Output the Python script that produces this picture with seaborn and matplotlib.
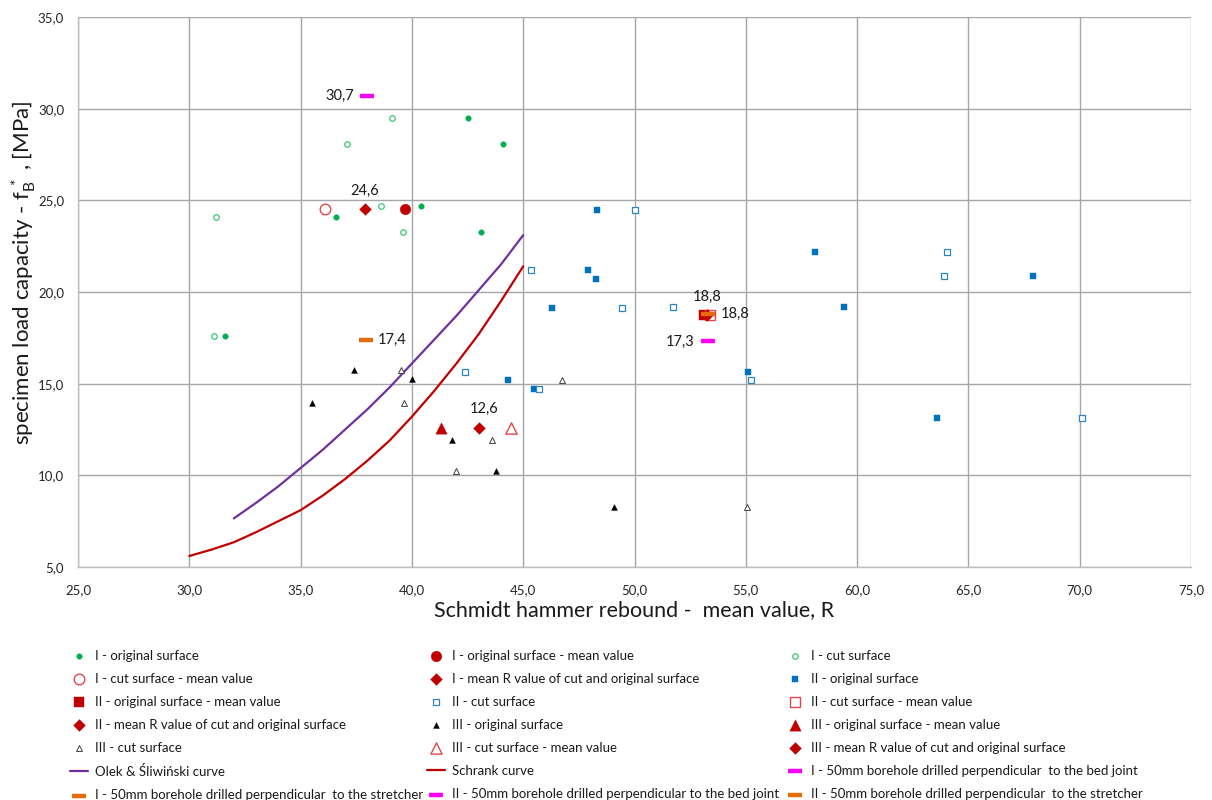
import matplotlib
matplotlib.use("Agg")
import matplotlib.pyplot as plt
import seaborn as sns
from matplotlib.ticker import FuncFormatter

# ---------------- data ----------------
# Group I
I_orig_R = [42.5, 44.1, 36.6, 40.4, 43.1, 31.6]
I_orig_f = [29.5, 28.1, 24.1, 24.7, 23.3, 17.6]
I_cut_R = [39.1, 37.1, 31.2, 38.6, 39.6, 31.1]
I_cut_f = [29.5, 28.1, 24.1, 24.7, 23.3, 17.6]
I_orig_mean = (39.7, 24.55)
I_cut_mean = (36.1, 24.55)
I_meanR = (37.9, 24.55)

# Group II
II_orig_R = [48.3, 58.1, 47.9, 48.25, 46.3, 44.3, 45.5, 55.1, 67.9, 59.4, 63.6]
II_orig_f = [24.45, 22.2, 21.2, 20.7, 19.1, 15.2, 14.7, 15.65, 20.9, 19.2, 13.15]
II_cut_R = [50.0, 64.05, 45.35, 63.9, 49.45, 51.75, 42.4, 55.25, 45.7, 70.1]
II_cut_f = [24.45, 22.2, 21.2, 20.9, 19.1, 19.2, 15.65, 15.2, 14.7, 13.15]
II_orig_mean = (53.1, 18.76)
II_cut_mean = (53.4, 18.76)
II_meanR = (53.25, 18.76)

# Group III
III_orig_R = [37.4, 40.0, 35.5, 41.8, 43.8, 49.1]
III_orig_f = [15.75, 15.25, 13.95, 11.95, 10.25, 8.3]
III_cut_R = [39.5, 39.65, 43.6, 42.0, 46.75, 55.05]
III_cut_f = [15.75, 13.95, 11.95, 10.25, 15.2, 8.3]
III_orig_mean = (41.3, 12.57)
III_cut_mean = (44.45, 12.57)
III_meanR = (43.0, 12.57)

# Curves
olek_R = [32, 33, 34, 35, 36, 37, 38, 39, 40, 41, 42, 43, 44, 45]
olek_f = [7.65, 8.5, 9.4, 10.4, 11.4, 12.5, 13.6, 14.8, 16.1, 17.4, 18.7, 20.1, 21.5, 23.1]
schrank_R = [30, 31, 32, 33, 34, 35, 36, 37, 38, 39, 40, 41, 42, 43, 44, 45]
schrank_f = [5.6, 5.95, 6.35, 6.9, 7.5, 8.1, 8.9, 9.8, 10.8, 11.9, 13.2, 14.6, 16.1, 17.7, 19.5, 21.4]

# Boreholes
I_bed = (38.0, 30.7)
I_str = (37.95, 17.4)
II_bed = (53.3, 17.3)
II_str = (53.3, 18.8)

x_ticks = [25, 30, 35, 40, 45, 50, 55, 60, 65, 70, 75]
y_ticks = [5, 10, 15, 20, 25, 30, 35]

legend_order = [
    "I - original surface", "I - original surface - mean value", "I - cut surface",
    "I - cut surface - mean value", "I - mean R value of cut and original surface", "II - original surface",
    "II - original surface - mean value", "II - cut surface", "II - cut surface - mean value",
    "II - mean R value of cut and original surface", "III - original surface", "III - original surface - mean value",
    "III - cut surface", "III - cut surface - mean value", "III - mean R value of cut and original surface",
    "Olek & Śliwiński curve", "Schrank curve", "I - 50mm borehole drilled perpendicular  to the bed joint",
    "I - 50mm borehole drilled perpendicular  to the stretcher", "II - 50mm borehole drilled perpendicular to the bed joint",
    "II - 50mm borehole drilled perpendicular  to the stretcher",
]

# ---------------- styling ----------------
sns.set_style("white")
FONT = ["Lato", "DejaVu Sans"]
plt.rcParams["font.family"] = FONT
plt.rcParams["mathtext.fontset"] = "custom"
plt.rcParams["mathtext.rm"] = "Lato"
plt.rcParams["mathtext.it"] = "Lato:italic"

GREEN = "#00B050"
GREEN_OPEN = "#3CC478"
BLUE = "#0070C0"
BLUE_OPEN = "#2F86C6"
RED = "#C00000"
RED_OPEN = "#E04848"
PURPLE = "#7030A0"
MAGENTA = "#FF00FF"
ORANGE = "#E46C0A"
GRID = "#A6A6A6"

W, H = 1212, 800
fig = plt.figure(figsize=(W / 100, H / 100), dpi=100)
L, R_, T, B = 78, 1191, 17, 567
ax = fig.add_axes([L / W, 1 - B / H, (R_ - L) / W, (B - T) / H])


def pts(xs, ys, label, marker, s, face, edge, lw=0.8):
    sns.scatterplot(x=list(xs), y=list(ys), ax=ax, label=label, legend=False,
                    marker=marker, s=s, color=edge, facecolor=face,
                    edgecolor=edge, linewidth=lw, zorder=3)


def one(p, label, marker, s, face, edge, lw=0.8):
    pts([p[0]], [p[1]], label, marker, s, face, edge, lw)


# plotting order follows the legend order (later series on top)
pts(I_orig_R, I_orig_f, legend_order[0], "o", 16, GREEN, GREEN, 0.3)
one(I_orig_mean, legend_order[1], "o", 58, RED, RED, 0.3)
pts(I_cut_R, I_cut_f, legend_order[2], "o", 16, "white", GREEN_OPEN, 0.9)
one(I_cut_mean, legend_order[3], "o", 58, "white", RED_OPEN, 1.0)
one(I_meanR, legend_order[4], "D", 36, RED, RED, 0.3)
pts(II_orig_R, II_orig_f, legend_order[5], "s", 20, BLUE, BLUE, 0.3)
one(II_orig_mean, legend_order[6], "s", 55, RED, RED, 0.3)
pts(II_cut_R, II_cut_f, legend_order[7], "s", 20, "white", BLUE_OPEN, 0.9)
one(II_cut_mean, legend_order[8], "s", 55, "white", RED_OPEN, 1.0)
one(II_meanR, legend_order[9], "D", 36, RED, RED, 0.3)
pts(III_orig_R, III_orig_f, legend_order[10], "^", 18, "black", "black", 0.3)
one(III_orig_mean, legend_order[11], "^", 66, RED, RED, 0.3)
pts(III_cut_R, III_cut_f, legend_order[12], "^", 18, "white", "#404040", 0.7)
one(III_cut_mean, legend_order[13], "^", 66, "white", RED_OPEN, 1.0)
one(III_meanR, legend_order[14], "D", 36, RED, RED, 0.3)

sns.lineplot(x=olek_R, y=olek_f, ax=ax, color=PURPLE, linewidth=1.6,
             label=legend_order[15], legend=False, sort=False, estimator=None, zorder=2)
sns.lineplot(x=schrank_R, y=schrank_f, ax=ax, color=RED, linewidth=1.6,
             label=legend_order[16], legend=False, sort=False, estimator=None, zorder=2)

one(I_bed, legend_order[17], "_", 100, MAGENTA, MAGENTA, 3.2)
one(I_str, legend_order[18], "_", 100, ORANGE, ORANGE, 3.2)
one(II_bed, legend_order[19], "_", 100, MAGENTA, MAGENTA, 3.2)
one(II_str, legend_order[20], "_", 100, ORANGE, ORANGE, 3.2)


def fmt(v):
    return f"{v:.1f}".replace(".", ",")


LBL = dict(fontsize=10.5, color="#1a1a1a", textcoords="offset points")
ax.annotate(fmt(I_bed[1]), I_bed, xytext=(-9.5, 0), ha="right", va="center", **LBL)
ax.annotate(fmt(I_meanR[1]), I_meanR, xytext=(0, 12.5), ha="center", va="center", **LBL)
ax.annotate(fmt(I_str[1]), I_str, xytext=(8.5, 0), ha="left", va="center", **LBL)
ax.annotate(fmt(III_meanR[1]), III_meanR, xytext=(4, 14), ha="center", va="center", **LBL)
ax.annotate(fmt(II_meanR[1]), II_meanR, xytext=(0, 13), ha="center", va="center", **LBL)
ax.annotate(fmt(II_str[1]), II_str, xytext=(9, 0), ha="left", va="center", **LBL)
ax.annotate(fmt(II_bed[1]), II_bed, xytext=(-10, 0), ha="right", va="center", **LBL)

# ---------------- axes ----------------
ax.set_xlim(x_ticks[0], x_ticks[-1])
ax.set_ylim(y_ticks[0], y_ticks[-1])
ax.set_xticks(x_ticks)
ax.set_yticks(y_ticks)
ax.xaxis.set_major_formatter(FuncFormatter(lambda v, p: fmt(v)))
ax.yaxis.set_major_formatter(FuncFormatter(lambda v, p: fmt(v)))
ax.grid(True, color=GRID, linewidth=1.0)
ax.set_axisbelow(True)
for side in ["top", "right"]:
    ax.spines[side].set_visible(False)
for side in ["left", "bottom"]:
    ax.spines[side].set_color("#BFBFBF")
    ax.spines[side].set_linewidth(1.0)
ax.tick_params(axis="both", direction="out", length=4, width=1, color="#BFBFBF",
               labelsize=9.5, labelcolor="#262626")
ax.tick_params(axis="x", pad=8)
ax.tick_params(axis="y", pad=6)

ax.set_xlabel("Schmidt hammer rebound -  mean value, R", fontsize=15.5, color="#1a1a1a")
ax.set_ylabel(r"specimen load capacity - f$\mathregular{_B^{\ *}}$ , [MPa]", fontsize=16, color="#1a1a1a")
ax.xaxis.set_label_coords(0.5, -0.061)
ax.yaxis.set_label_coords(-0.036, 0.535)

# ---------------- legend: three columns, row-major order ----------------
handles, labels = ax.get_legend_handles_labels()
hmap = dict(zip(labels, handles))
col_x = [70, 427, 786]
for k, x0 in enumerate(col_x):
    col = legend_order[k::3]
    fig.legend([hmap[l] for l in col], col, loc="upper left",
               bbox_to_anchor=(x0 / W, 1 - 649.5 / H), frameon=False,
               borderpad=0, borderaxespad=0, handlelength=1.4, handletextpad=0.5,
               labelspacing=0.84, fontsize=9.5, scatterpoints=1, labelcolor="#1a1a1a")

fig.savefig("out.png", dpi=100, facecolor="white")
